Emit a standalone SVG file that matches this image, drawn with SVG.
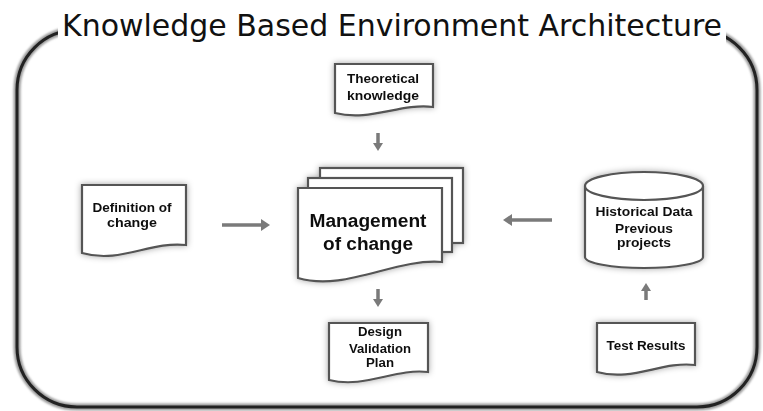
<svg xmlns="http://www.w3.org/2000/svg" width="763" height="411" viewBox="0 0 763 411">
<defs>
<filter id="glow" x="-20%" y="-20%" width="140%" height="140%">
<feGaussianBlur in="SourceAlpha" stdDeviation="3" result="b"/>
<feFlood flood-color="#000" flood-opacity="0.35"/>
<feComposite in2="b" operator="in" result="s"/>
<feMerge><feMergeNode in="s"/><feMergeNode in="SourceGraphic"/></feMerge>
</filter>
<filter id="soft" x="-5%" y="-5%" width="110%" height="110%">
<feGaussianBlur stdDeviation="0.8"/>
</filter>
</defs>
<style>
.doc{fill:#fff;stroke:#555;stroke-width:2.2}
.t{font-family:"Liberation Sans",Arial,sans-serif;font-weight:bold;fill:#111;text-anchor:middle}
.s{font-size:13.5px}
.c{stroke:#7a7a7a;stroke-width:3.5;fill:none}
.h{fill:#7a7a7a}
</style>
<rect width="763" height="411" fill="#fff"/>
<g id="frame">
<rect x="17" y="30" width="740" height="377" rx="60" fill="none" stroke="#9a9a9a" stroke-width="7" filter="url(#soft)"/>
<rect x="17" y="30" width="740" height="377" rx="60" fill="none" stroke="#222" stroke-width="3"/>
<rect x="58" y="8" width="668" height="36" fill="#fff"/>
<text x="62" y="36" font-family="'DejaVu Sans','Liberation Sans',sans-serif" font-size="31" fill="#111" textLength="660" lengthAdjust="spacingAndGlyphs">Knowledge Based Environment Architecture</text>
</g>
<g id="theoretical" filter="url(#glow)">
<path class="doc" d="M335,64 H433 V107 C400,103 370,122 335,113 Z"/>
<text class="t s" x="383" y="83" textLength="72" lengthAdjust="spacingAndGlyphs">Theoretical</text>
<text class="t s" x="383" y="100" textLength="72" lengthAdjust="spacingAndGlyphs">knowledge</text>
</g>
<g id="definition" filter="url(#glow)">
<path class="doc" d="M82,185 H186 V245 C150,241 120,264 82,253 Z"/>
<text class="t s" x="132" y="212" textLength="79" lengthAdjust="spacingAndGlyphs">Definition of</text>
<text class="t s" x="132" y="227" textLength="50" lengthAdjust="spacingAndGlyphs">change</text>
</g>
<g id="management" filter="url(#glow)">
<rect class="doc" x="320" y="168" width="143" height="75"/>
<rect class="doc" x="308" y="178" width="144" height="74"/>
<path class="doc" d="M298,188 H442 V262 C395,258 345,292 298,278 Z"/>
<text class="t" x="368" y="227" font-size="18" textLength="117" lengthAdjust="spacingAndGlyphs">Management</text>
<text class="t" x="368" y="250" font-size="18" textLength="90" lengthAdjust="spacingAndGlyphs">of change</text>
</g>
<g id="design" filter="url(#glow)">
<path class="doc" d="M329,323 H428 V372 C395,368 365,389 329,380 Z"/>
<text class="t s" x="380" y="336" textLength="44" lengthAdjust="spacingAndGlyphs">Design</text>
<text class="t s" x="380" y="353" textLength="62" lengthAdjust="spacingAndGlyphs">Validation</text>
<text class="t s" x="380" y="367" textLength="28" lengthAdjust="spacingAndGlyphs">Plan</text>
</g>
<g id="historical" filter="url(#glow)">
<path class="doc" d="M585,186 V257 A59,11 0 0 0 703,257 V186"/>
<ellipse class="doc" cx="644" cy="186" rx="59" ry="14"/>
<text class="t s" x="644" y="216" textLength="97" lengthAdjust="spacingAndGlyphs">Historical Data</text>
<text class="t s" x="644" y="233" textLength="58" lengthAdjust="spacingAndGlyphs">Previous</text>
<text class="t s" x="644" y="247" textLength="54" lengthAdjust="spacingAndGlyphs">projects</text>
</g>
<g id="test" filter="url(#glow)">
<path class="doc" d="M597,323 H695 V365 C662,361 632,382 597,372 Z"/>
<text class="t s" x="646" y="350" textLength="79" lengthAdjust="spacingAndGlyphs">Test Results</text>
</g>
<g id="connectors">
<line class="c" x1="222" y1="225" x2="262" y2="225"/>
<polygon class="h" points="261,219 270,225 261,231"/>
<line class="c" x1="552" y1="220" x2="511" y2="220"/>
<polygon class="h" points="512,214 503,220 512,226"/>
<line class="c" x1="378" y1="133" x2="378" y2="144"/>
<polygon class="h" points="373,143 378,151 383,143"/>
<line class="c" x1="378" y1="289" x2="378" y2="300"/>
<polygon class="h" points="373,299 378,307 383,299"/>
<line class="c" x1="646" y1="300" x2="646" y2="290"/>
<polygon class="h" points="641,291 646,283 651,291"/>
</g>
</svg>
